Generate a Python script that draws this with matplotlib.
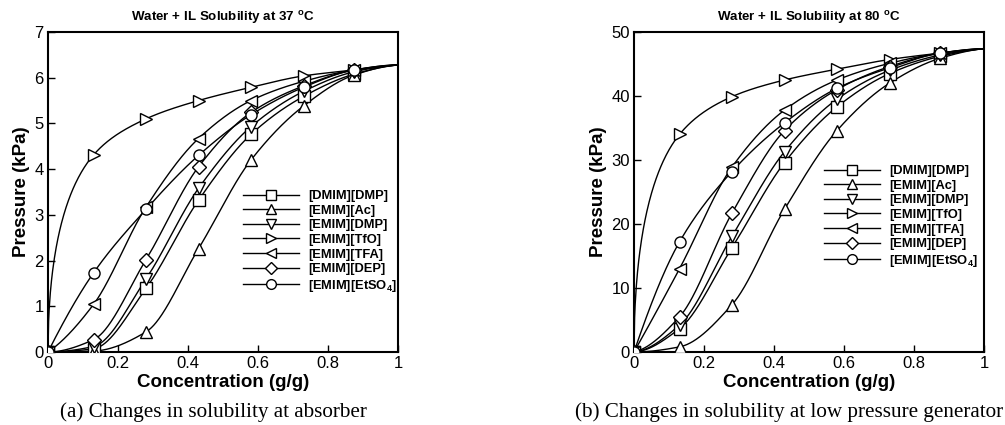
import numpy as np
import matplotlib
matplotlib.use('Agg')
import matplotlib.pyplot as plt

plt.rcParams['font.family'] = ['Liberation Sans', 'DejaVu Sans']
plt.rcParams['mathtext.fontset'] = 'custom'
plt.rcParams['mathtext.rm'] = 'Liberation Sans'
plt.rcParams['mathtext.bf'] = 'Liberation Sans:bold'

# ---- data ----
conc = [0.0, 0.13, 0.28, 0.43, 0.58, 0.73, 0.875]
labels = ['[DMIM][DMP]', '[EMIM][Ac]', '[EMIM][DMP]', '[EMIM][TfO]',
          '[EMIM][TFA]', '[EMIM][DEP]', r'[EMIM][EtSO$_\mathbf{4}$]']
markers = ['s', '^', 'v', '>', '<', 'D', 'o']

psat_37 = 6.28
p37_dmim_dmp = [0.0, 0.07, 1.39, 3.32, 4.76, 5.59, 6.08]
p37_emim_ac = [0.0, 0.02, 0.44, 2.26, 4.20, 5.38, 6.06]
p37_emim_dmp = [0.0, 0.12, 1.60, 3.58, 4.93, 5.70, 6.13]
p37_emim_tfo = [0.0, 4.31, 5.10, 5.50, 5.79, 6.04, 6.17]
p37_emim_tfa = [0.0, 1.04, 3.17, 4.67, 5.50, 5.92, 6.17]
p37_emim_dep = [0.0, 0.27, 2.02, 4.05, 5.24, 5.82, 6.17]
p37_emim_etso4 = [0.0, 1.73, 3.12, 4.30, 5.19, 5.79, 6.17]

psat_80 = 47.4
p80_dmim_dmp = [0.0, 3.65, 16.3, 29.6, 38.3, 43.5, 46.2]
p80_emim_ac = [0.0, 0.8, 7.4, 22.3, 34.6, 42.0, 45.9]
p80_emim_dmp = [0.0, 4.2, 18.1, 31.3, 39.5, 44.0, 46.4]
p80_emim_tfo = [0.0, 34.0, 39.9, 42.5, 44.2, 45.7, 46.7]
p80_emim_tfa = [0.0, 13.0, 28.9, 37.8, 42.5, 45.1, 46.7]
p80_emim_dep = [0.0, 5.5, 21.7, 34.6, 41.0, 44.6, 46.7]
p80_emim_etso4 = [0.0, 17.2, 28.2, 35.8, 41.2, 44.4, 46.7]

series37 = [p37_dmim_dmp, p37_emim_ac, p37_emim_dmp, p37_emim_tfo,
            p37_emim_tfa, p37_emim_dep, p37_emim_etso4]
series80 = [p80_dmim_dmp, p80_emim_ac, p80_emim_dmp, p80_emim_tfo,
            p80_emim_tfa, p80_emim_dep, p80_emim_etso4]

xtick_vals = [0, 0.2, 0.4, 0.6, 0.8, 1]
xtick_labels = ['0', '0.2', '0.4', '0.6', '0.8', '1']

# smoothing parameterisation exponent per curve (line-drawing style only)
curve_exp = [1.0, 1.0, 1.0, 0.5, 1.0, 1.0, 1.0]


def pchip(x, y, xn):
    x = np.asarray(x, float); y = np.asarray(y, float)
    h = np.diff(x); d = np.diff(y) / h
    n = len(x); m = np.zeros(n)
    for k in range(1, n - 1):
        if d[k - 1] * d[k] <= 0:
            m[k] = 0
        else:
            w1 = 2 * h[k] + h[k - 1]; w2 = h[k] + 2 * h[k - 1]
            m[k] = (w1 + w2) / (w1 / d[k - 1] + w2 / d[k])

    def endslope(h0, h1, d0, d1):
        s = ((2 * h0 + h1) * d0 - h0 * d1) / (h0 + h1)
        if np.sign(s) != np.sign(d0):
            s = 0
        elif np.sign(d0) != np.sign(d1) and abs(s) > abs(3 * d0):
            s = 3 * d0
        return s
    m[0] = endslope(h[0], h[1], d[0], d[1])
    m[-1] = endslope(h[-1], h[-2], d[-1], d[-2])
    idx = np.clip(np.searchsorted(x, xn) - 1, 0, n - 2)
    t = (xn - x[idx]) / h[idx]
    h00 = 2 * t**3 - 3 * t**2 + 1; h10 = t**3 - 2 * t**2 + t
    h01 = -2 * t**3 + 3 * t**2; h11 = t**3 - t**2
    return (h00 * y[idx] + h10 * h[idx] * m[idx] + h01 * y[idx + 1]
            + h11 * h[idx] * m[idx + 1])


W, H = 1005, 425
fig = plt.figure(figsize=(W / 100, H / 100), dpi=100)


def make_panel(left_px, series, psat, ymax, ystep, title, caption, cap_x,
               leg_x, leg_y):
    ax = fig.add_axes([left_px / W, 1 - 352 / H, 350 / W, 320 / H])
    xs = np.linspace(0, 1, 600)
    for s, mk, lab, e in zip(series, markers, labels, curve_exp):
        xl = np.array(conc + [1.0]) ** e
        yl = s + [psat]
        ax.plot(xs, pchip(xl, yl, xs ** e), color='black', lw=1.0, zorder=2)
        ax.plot(conc, s, linestyle='none', marker=mk, ms=8 if mk != 'D' else 7,
                mfc='white', mec='black', mew=1.0, zorder=3)
        ax.plot([], [], color='black', lw=1.0, marker=mk,
                ms=7 if mk != 'D' else 6, mfc='white', mec='black', mew=1.0,
                label=lab)
    ax.set_xlim(0, 1)
    ax.set_ylim(0, ymax)
    ax.set_xticks(xtick_vals)
    ax.set_xticklabels(xtick_labels)
    ax.set_yticks(np.arange(0, ymax + 0.001, ystep))
    ax.tick_params(direction='in', length=5, width=1.0, labelsize=12, pad=3)
    for sp in ax.spines.values():
        sp.set_linewidth(1.5)
    ax.set_xlabel('Concentration (g/g)', fontsize=13.5, fontweight='bold', labelpad=2)
    ax.set_ylabel('Pressure (kPa)', fontsize=13.5, fontweight='bold', labelpad=3)
    ax.set_title(title, fontsize=9.6, fontweight='bold', pad=8)
    ax.legend(loc='upper left', bbox_to_anchor=(leg_x / W, 1 - leg_y / H),
              bbox_transform=fig.transFigure, frameon=False,
              prop={'weight': 'bold', 'size': 9.3}, handlelength=4.3,
              handletextpad=0.75, labelspacing=0.2, borderpad=0, borderaxespad=0)
    fig.text(cap_x / W, 1 - 412 / H, caption, ha='center', va='center',
             fontsize=15.2, family='Liberation Serif')
    return ax


make_panel(48, series37, psat_37, 7, 1,
           r'Water + IL Solubility at 37 $^\mathbf{o}$C',
           '(a) Changes in solubility at absorber', 213, 243, 190)
make_panel(634, series80, psat_80, 50, 10,
           r'Water + IL Solubility at 80 $^\mathbf{o}$C',
           '(b) Changes in solubility at low pressure generator', 789, 824, 165)

fig.savefig('out.png', dpi=100)
